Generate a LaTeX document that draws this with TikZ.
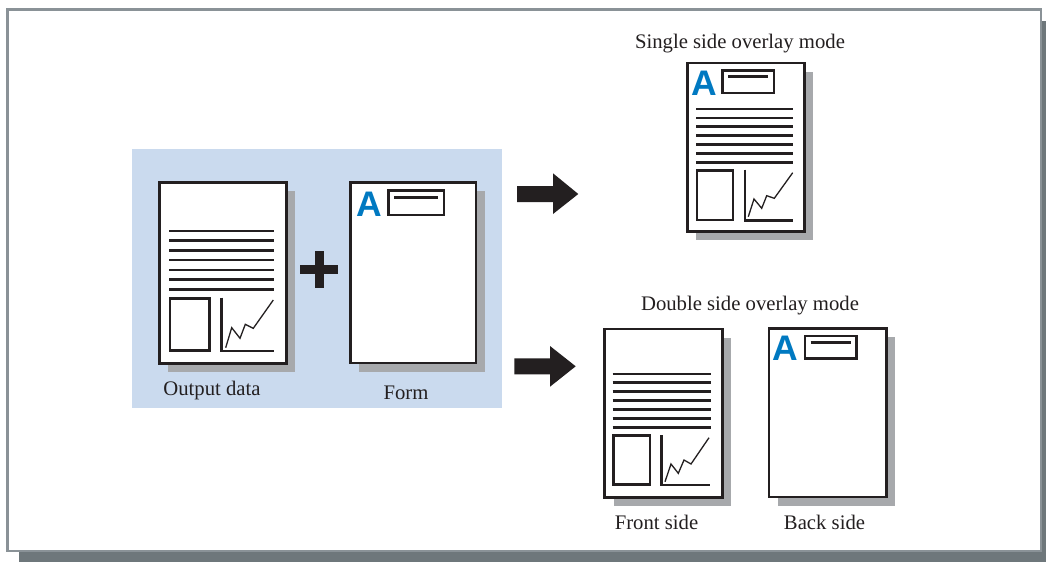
\documentclass[tikz,border=0pt]{standalone}
\usepackage{fontspec}
\setmainfont{Liberation Serif}
\newfontfamily\sansbold{Liberation Sans}
\usetikzlibrary{shadows}
\definecolor{framegray}{HTML}{8A9297}
\definecolor{framesh}{HTML}{6E777B}
\definecolor{bluebg}{HTML}{CADAEE}
\definecolor{pagesh}{HTML}{A7A9AC}
\definecolor{ablue}{HTML}{0079C1}
\definecolor{ink}{HTML}{231F20}
\begin{document}
\begin{tikzpicture}[x=1pt,y=-1pt,
  page/.style={draw=ink, fill=white, line width=2.5pt, inner sep=0pt, anchor=north west,
    drop shadow={shadow xshift=9pt, shadow yshift=-9pt, fill=pagesh, opacity=1}},
  txtline/.style={draw=ink, line width=2.6pt},
  boxline/.style={draw=ink, line width=2.5pt},
  zig/.style={draw=ink, line width=1.3pt, line join=miter},
  lbl/.style={anchor=base, inner sep=0pt, font=\fontsize{20.7}{24}\selectfont, text=ink},
  bigA/.style={anchor=base west, inner sep=0pt, text=ablue, font=\sansbold\bfseries\fontsize{35.5}{36}\selectfont},
  blockarrow/.style={fill=ink}]
\useasboundingbox (0,0) rectangle (1046,562);
% outer frame
\fill[framesh] (19,21) rectangle (1046,562);
\draw[framegray, line width=2.6pt, fill=white] (7.3,9.3) rectangle (1041,551);
% blue background
\fill[bluebg] (132,148.5) rectangle (502,408);

% ---------- Output data page ----------
\node[page, minimum width=127, minimum height=181] (out) at (158,181) {};
\foreach \y in {231,240.7,250.4,260.1,269.8,279.5,289.2}
  \draw[txtline] (169,\y) -- (274,\y);
\draw[boxline] (170,298.3) rectangle (209.5,350.7);
\draw[boxline] (221.5,297.7) -- (221.5,351) -- (274,351);
\draw[zig] (225.7,347.7) -- (231.7,327.7) -- (240,338.3) -- (245.3,324.3) -- (253.3,328.3) -- (273.3,300);
\node[lbl] (outlbl) at (212,395) {Output data};

% plus sign
\fill[ink] (300,265) rectangle (338.3,273.5);
\fill[ink] (315,251) rectangle (323.5,288.3);

% ---------- Form page ----------
\node[page, minimum width=125.5, minimum height=180.5] (form) at (349,181) {};
\node[bigA] (formA) at (356.5,216.7) {A};
\draw[boxline] (388.7,190.3) rectangle (444,215);
\draw[txtline] (394.3,197.3) -- (438.3,197.3);
\node[lbl] (formlbl) at (406,399) {Form};

% ---------- block arrows ----------
\fill[blockarrow] (517,186) -- (553,186) -- (553,173.3) -- (578.3,194) -- (553,214) -- (553,202) -- (517,202) -- cycle;
\fill[blockarrow] (514.3,358.3) -- (550,358.3) -- (550,346) -- (575.7,366.3) -- (550,386.7) -- (550,374.3) -- (514.3,374.3) -- cycle;

% ---------- Single side overlay ----------
\node[lbl] (singlelbl) at (740,48) {Single side overlay mode};
\node[page, minimum width=117, minimum height=168.5] (single) at (686,61.7) {};
\node[bigA] (singleA) at (690.8,95) {A};
\draw[boxline] (722.7,70.3) rectangle (774,93);
\draw[txtline] (728.3,76.7) -- (768.3,76.7);
\foreach \y in {109,118,126.7,135.3,144.3,153.3,162.3}
  \draw[txtline] (696,\y) -- (793.3,\y);
\draw[boxline] (697,170.3) rectangle (733,220);
\draw[boxline] (744.8,169.5) -- (744.8,220.5) -- (792.7,220.5);
\draw[zig] (748.3,216.7) -- (754,199) -- (761.7,208.3) -- (766.7,195.7) -- (774.3,198.3) -- (792.7,172.7);

% ---------- Double side overlay ----------
\node[lbl] (doublelbl) at (750,310) {Double side overlay mode};
% front
\node[page, minimum width=117.7, minimum height=168.3] (front) at (603.3,327.7) {};
\foreach \y in {374,382.7,391.7,400.7,409.3,418.3,427.3}
  \draw[txtline] (612.7,\y) -- (710.7,\y);
\draw[boxline] (613.7,435.3) rectangle (650,484.7);
\draw[boxline] (661.5,435) -- (661.5,485) -- (710,485);
\draw[zig] (665,481.7) -- (671,464) -- (678.3,473.3) -- (684,460) -- (691,464) -- (709,437.7);
\node[lbl] (frontlbl) at (656.5,529) {Front side};
% back
\node[page, minimum width=117.3, minimum height=168.7] (back) at (767.7,327) {};
\node[bigA] (backA) at (772.5,360) {A};
\draw[boxline] (805,336) rectangle (856.3,358.3);
\draw[txtline] (810.7,342.3) -- (851,342.3);
\node[lbl] (backlbl) at (824.5,529) {Back side};
\end{tikzpicture}
\end{document}
